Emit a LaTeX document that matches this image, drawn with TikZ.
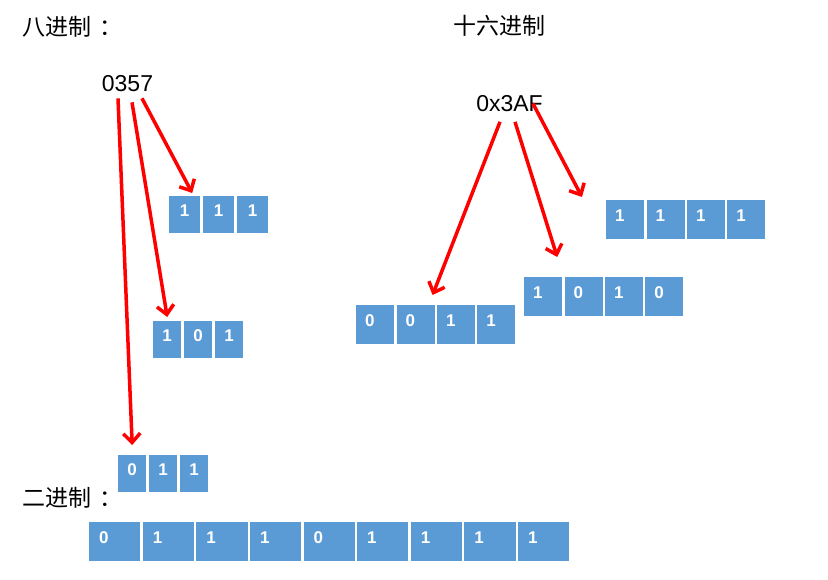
\documentclass[tikz,border=0pt]{standalone}
\usepackage{fontspec}
\setmainfont{Liberation Sans}
\newfontfamily\cjk{Noto Sans CJK SC}
\usepackage{xcolor}
\usepackage{tikz}
\usetikzlibrary{positioning, arrows.meta}
\definecolor{cellblue}{HTML}{5B9BD5}

\begin{document}
\begin{tikzpicture}[
        x=1pt, y=-1pt,
        every node/.style={inner sep=0pt},
        title/.style={font=\cjk\fontsize{23}{23}\selectfont, anchor=west},
        num/.style={font=\fontsize{23}{23}\selectfont},
        bit/.style={fill=cellblue, text=white, font=\bfseries\fontsize{17}{17}\selectfont, text height=11pt, text depth=7pt},
        octbit/.style={bit, minimum width=#1, minimum height=36.5pt},
        hexbit/.style={bit, minimum width=38pt, minimum height=38.5pt, text width=20pt, align=left, inner xsep=9pt},
        binbit/.style={bit, minimum width=51.2pt, minimum height=39pt, text width=31.2pt, align=left, inner xsep=10pt},
        conv/.style={draw=red, line width=3.5pt, -{Straight Barb[length=9pt, width=17pt]}}
    ]
        \useasboundingbox (0,0) rectangle (828,580);

        \node[title] (octt) at (22,27)  {八进制\hspace{8pt}：};
        \node[title] (hext) at (453,26) {十六进制};
        \node[title] (bint) at (22,498) {二进制\hspace{8pt}：};

        \node[num] (oct) at (127.5,84)   {0357};
        \node[num] (hex) at (509.5,103.5) {0x3AF};

        % octal digits
        \node[octbit=31pt, anchor=north west] (o7a) at (169,196) {1};
        \node[octbit=31pt, right=2.5pt of o7a] (o7b) {1};
        \node[octbit=31pt, right=2.5pt of o7b] (o7c) {1};

        \node[octbit=28pt, anchor=north west] (o5a) at (153,321) {1};
        \node[octbit=28pt, right=2.5pt of o5a] (o5b) {0};
        \node[octbit=28pt, right=2.5pt of o5b] (o5c) {1};

        \node[octbit=28pt, anchor=north west] (o3a) at (118,455) {0};
        \node[octbit=28pt, right=2.5pt of o3a] (o3b) {1};
        \node[octbit=28pt, right=2.5pt of o3b] (o3c) {1};

        % hex digits
        \node[hexbit, anchor=north west] (h3a) at (356,305) {0};
        \node[hexbit, right=2pt of h3a] (h3b) {0};
        \node[hexbit, right=2pt of h3b] (h3c) {1};
        \node[hexbit, right=2pt of h3c] (h3d) {1};

        \node[hexbit, anchor=north west] (hAa) at (524,277) {1};
        \node[hexbit, right=2pt of hAa] (hAb) {0};
        \node[hexbit, right=2pt of hAb] (hAc) {1};
        \node[hexbit, right=2pt of hAc] (hAd) {0};

        \node[hexbit, anchor=north west] (hFa) at (606,200) {1};
        \node[hexbit, right=2pt of hFa] (hFb) {1};
        \node[hexbit, right=2pt of hFb] (hFc) {1};
        \node[hexbit, right=2pt of hFc] (hFd) {1};

        % binary
        \node[binbit, anchor=north west] (b1) at (89,522) {0};
        \node[binbit, right=2pt of b1] (b2) {1};
        \node[binbit, right=2pt of b2] (b3) {1};
        \node[binbit, right=2pt of b3] (b4) {1};
        \node[binbit, right=2pt of b4] (b5) {0};
        \node[binbit, right=2pt of b5] (b6) {1};
        \node[binbit, right=2pt of b6] (b7) {1};
        \node[binbit, right=2pt of b7] (b8) {1};
        \node[binbit, right=2pt of b8] (b9) {1};

        \draw[conv] ([xshift=-9.5pt, yshift=-6pt]oct.south) -- ([yshift=10pt]o3a.north);
        \draw[conv] ([xshift=4.5pt, yshift=-10pt]oct.south) -- ([yshift=4pt]o5a.north);
        \draw[conv] ([xshift=14.5pt, yshift=-6pt]oct.south) -- ([xshift=7.5pt, yshift=3pt]o7a.north);

        \draw[conv] ([xshift=-9.5pt, yshift=-10pt]hex.south) -- ([xshift=17pt, yshift=10pt]h3b.north);
        \draw[conv] ([xshift=5.5pt, yshift=-10pt]hex.south) -- ([xshift=14pt, yshift=20pt]hAa.north);
        \draw[conv] ([xshift=-10pt]hex.east) -- ([xshift=-24pt, yshift=3pt]hFa.north west);
    \end{tikzpicture}
\end{document}
